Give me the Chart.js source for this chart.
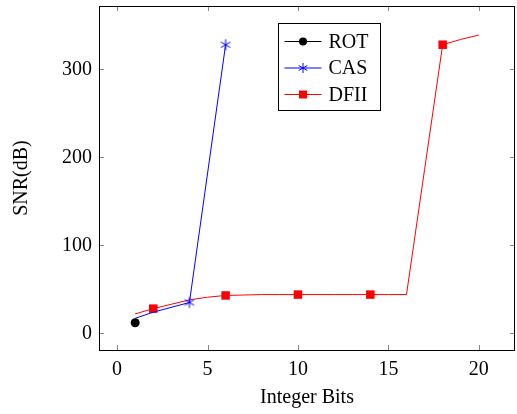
<!DOCTYPE html>
<html>
<head>
<meta charset="utf-8">
<script src="https://cdn.jsdelivr.net/npm/chart.js@4"></script>
<style>
    html, body { margin: 0; padding: 0; background: #fff; }
    #wrap { width: 517px; height: 414px; }
</style>
</head>
<body>
<div id="wrap"><canvas id="snrChart" width="517" height="414"></canvas></div>
<script>
// data
const rotX = [1];
const rotY = [12];

const casX = [1, 2, 4, 6];
const casY = [17, 24, 35, 328];
const casMarks = [false, false, true, true];

const dfiiX = [1, 2, 3, 4, 5, 6, 7, 8, 9, 10, 11, 12, 13, 14, 15, 16, 17, 18, 19, 20];
const dfiiY = [22, 28, 33, 38, 41, 43, 43.5, 44, 44, 44, 44, 44, 44, 44, 44, 44, 186, 328, 334, 339];
const dfiiMarks = dfiiX.map(x => x === 2 || x === 6 || x === 10 || x === 14 || x === 18);

const xTicks = [0, 5, 10, 15, 20];
const yTicks = [0, 100, 200, 300];

const FONT = '"Liberation Serif", "DejaVu Serif", serif';

function pts(xs, ys) {
    return xs.map((x, i) => ({ x: x, y: ys[i] }));
}

// six-armed star like the pgfplots "star" mark
function drawStar(ctx, cx, cy, r) {
    ctx.beginPath();
    for (let k = 0; k < 3; k++) {
        const ang = Math.PI / 2 + k * Math.PI / 3;
        ctx.moveTo(cx + r * Math.cos(ang), cy + r * Math.sin(ang));
        ctx.lineTo(cx - r * Math.cos(ang), cy - r * Math.sin(ang));
    }
    ctx.stroke();
}

const starImg = document.createElement('canvas');
starImg.width = 14; starImg.height = 14;
(function () {
    const c = starImg.getContext('2d');
    c.strokeStyle = '#0000ff';
    c.lineWidth = 1;
    drawStar(c, 7, 7, 5.5);
})();
const noMark = document.createElement('canvas');
noMark.width = 1; noMark.height = 1;

// inward ticks on all four sides + frame, like pgfplots
const frameTicks = {
    id: 'frameTicks',
    afterDraw(chart) {
        const ctx = chart.ctx;
        const a = chart.chartArea;
        const xs = chart.scales.x, ys = chart.scales.y;
        ctx.save();
        ctx.strokeStyle = '#888';
        ctx.lineWidth = 1;
        ctx.beginPath();
        xTicks.forEach(v => {
            const px = Math.round(xs.getPixelForValue(v)) + 0.5;
            ctx.moveTo(px, a.bottom); ctx.lineTo(px, a.bottom - 5);
            ctx.moveTo(px, a.top); ctx.lineTo(px, a.top + 5);
        });
        yTicks.forEach(v => {
            const py = Math.round(ys.getPixelForValue(v)) + 0.5;
            ctx.moveTo(a.left, py); ctx.lineTo(a.left + 5, py);
            ctx.moveTo(a.right, py); ctx.lineTo(a.right - 5, py);
        });
        ctx.stroke();
        ctx.strokeStyle = '#000';
        ctx.strokeRect(Math.round(a.left) + 0.5, Math.round(a.top) + 0.5,
            Math.round(a.right - a.left) - 1, Math.round(a.bottom - a.top));
        ctx.restore();
    }
};

// legend box inside the plot
const boxLegend = {
    id: 'boxLegend',
    afterDraw(chart) {
        const ctx = chart.ctx;
        const left = 278.5, top = 23.5, w = 102, h = 87;
        ctx.save();
        ctx.fillStyle = '#fff';
        ctx.fillRect(left, top, w, h);
        ctx.strokeStyle = '#000';
        ctx.lineWidth = 1;
        ctx.strokeRect(left, top, w, h);
        ctx.font = '20px ' + FONT;
        ctx.textBaseline = 'middle';
        chart.data.datasets.forEach((ds, i) => {
            const y = top + 18 + i * 26.5;
            ctx.strokeStyle = ds.borderColor;
            ctx.beginPath();
            ctx.moveTo(left + 6, y); ctx.lineTo(left + 43, y);
            ctx.stroke();
            const cx = left + 24.5;
            ctx.fillStyle = ds.borderColor;
            if (ds.label === 'ROT') {
                ctx.beginPath(); ctx.arc(cx, y, 4, 0, Math.PI * 2); ctx.fill();
            } else if (ds.label === 'CAS') {
                drawStar(ctx, cx, y, 5);
            } else {
                ctx.fillRect(cx - 4, y - 4, 8, 8);
            }
            ctx.fillStyle = '#000';
            ctx.fillText(ds.label, left + 50, y + 1);
        });
        ctx.restore();
    }
};

const markRadius = (marks, r) => marks.map(m => (m ? r : 0));

new Chart(document.getElementById('snrChart'), {
    type: 'line',
    data: {
        datasets: [
            {
                label: 'ROT',
                data: pts(rotX, rotY),
                borderColor: '#000',
                backgroundColor: '#000',
                borderWidth: 1,
                pointStyle: 'circle',
                pointRadius: 4.5,
                pointBorderWidth: 0,
            },
            {
                label: 'CAS',
                data: pts(casX, casY),
                borderColor: '#0000ff',
                backgroundColor: '#0000ff',
                borderWidth: 1,
                pointStyle: casMarks.map(m => (m ? starImg : noMark)),
                pointRadius: markRadius(casMarks, 6),
                pointBorderWidth: 0,
            },
            {
                label: 'DFII',
                data: pts(dfiiX, dfiiY),
                borderColor: '#ff0000',
                backgroundColor: '#ff0000',
                borderWidth: 1,
                pointStyle: 'rect',
                pointRadius: markRadius(dfiiMarks, 6),
                pointBorderWidth: 0,
            }
        ]
    },
    options: {
        responsive: false,
        animation: false,
        layout: { autoPadding: false, padding: { top: 6, right: 2, left: 0, bottom: 0 } },
        plugins: { legend: { display: false }, tooltip: { enabled: false } },
        scales: {
            x: {
                type: 'linear',
                min: -1,
                max: 22,
                afterBuildTicks: s => { s.ticks = xTicks.map(v => ({ value: v })); },
                afterFit: s => { s.height = 64; s.paddingLeft = 0; s.paddingRight = 0; },
                grid: { display: false, drawTicks: false },
                border: { display: false },
                ticks: { color: '#000', font: { family: FONT, size: 20 }, padding: 8, maxRotation: 0 },
                title: { display: true, text: 'Integer Bits', color: '#000', font: { family: FONT, size: 20 }, padding: { top: 7 } }
            },
            y: {
                type: 'linear',
                min: -19,
                max: 372,
                afterBuildTicks: s => { s.ticks = yTicks.map(v => ({ value: v })); },
                afterFit: s => { s.width = 99; s.paddingTop = 0; s.paddingBottom = 0; },
                grid: { display: false, drawTicks: false },
                border: { display: false },
                ticks: { color: '#000', font: { family: FONT, size: 20 }, padding: 7 },
                title: { display: true, text: 'SNR(dB)', color: '#000', font: { family: FONT, size: 20 }, padding: { top: 10, bottom: 0 } }
            }
        }
    },
    plugins: [frameTicks, boxLegend]
});
</script>
</body>
</html>
